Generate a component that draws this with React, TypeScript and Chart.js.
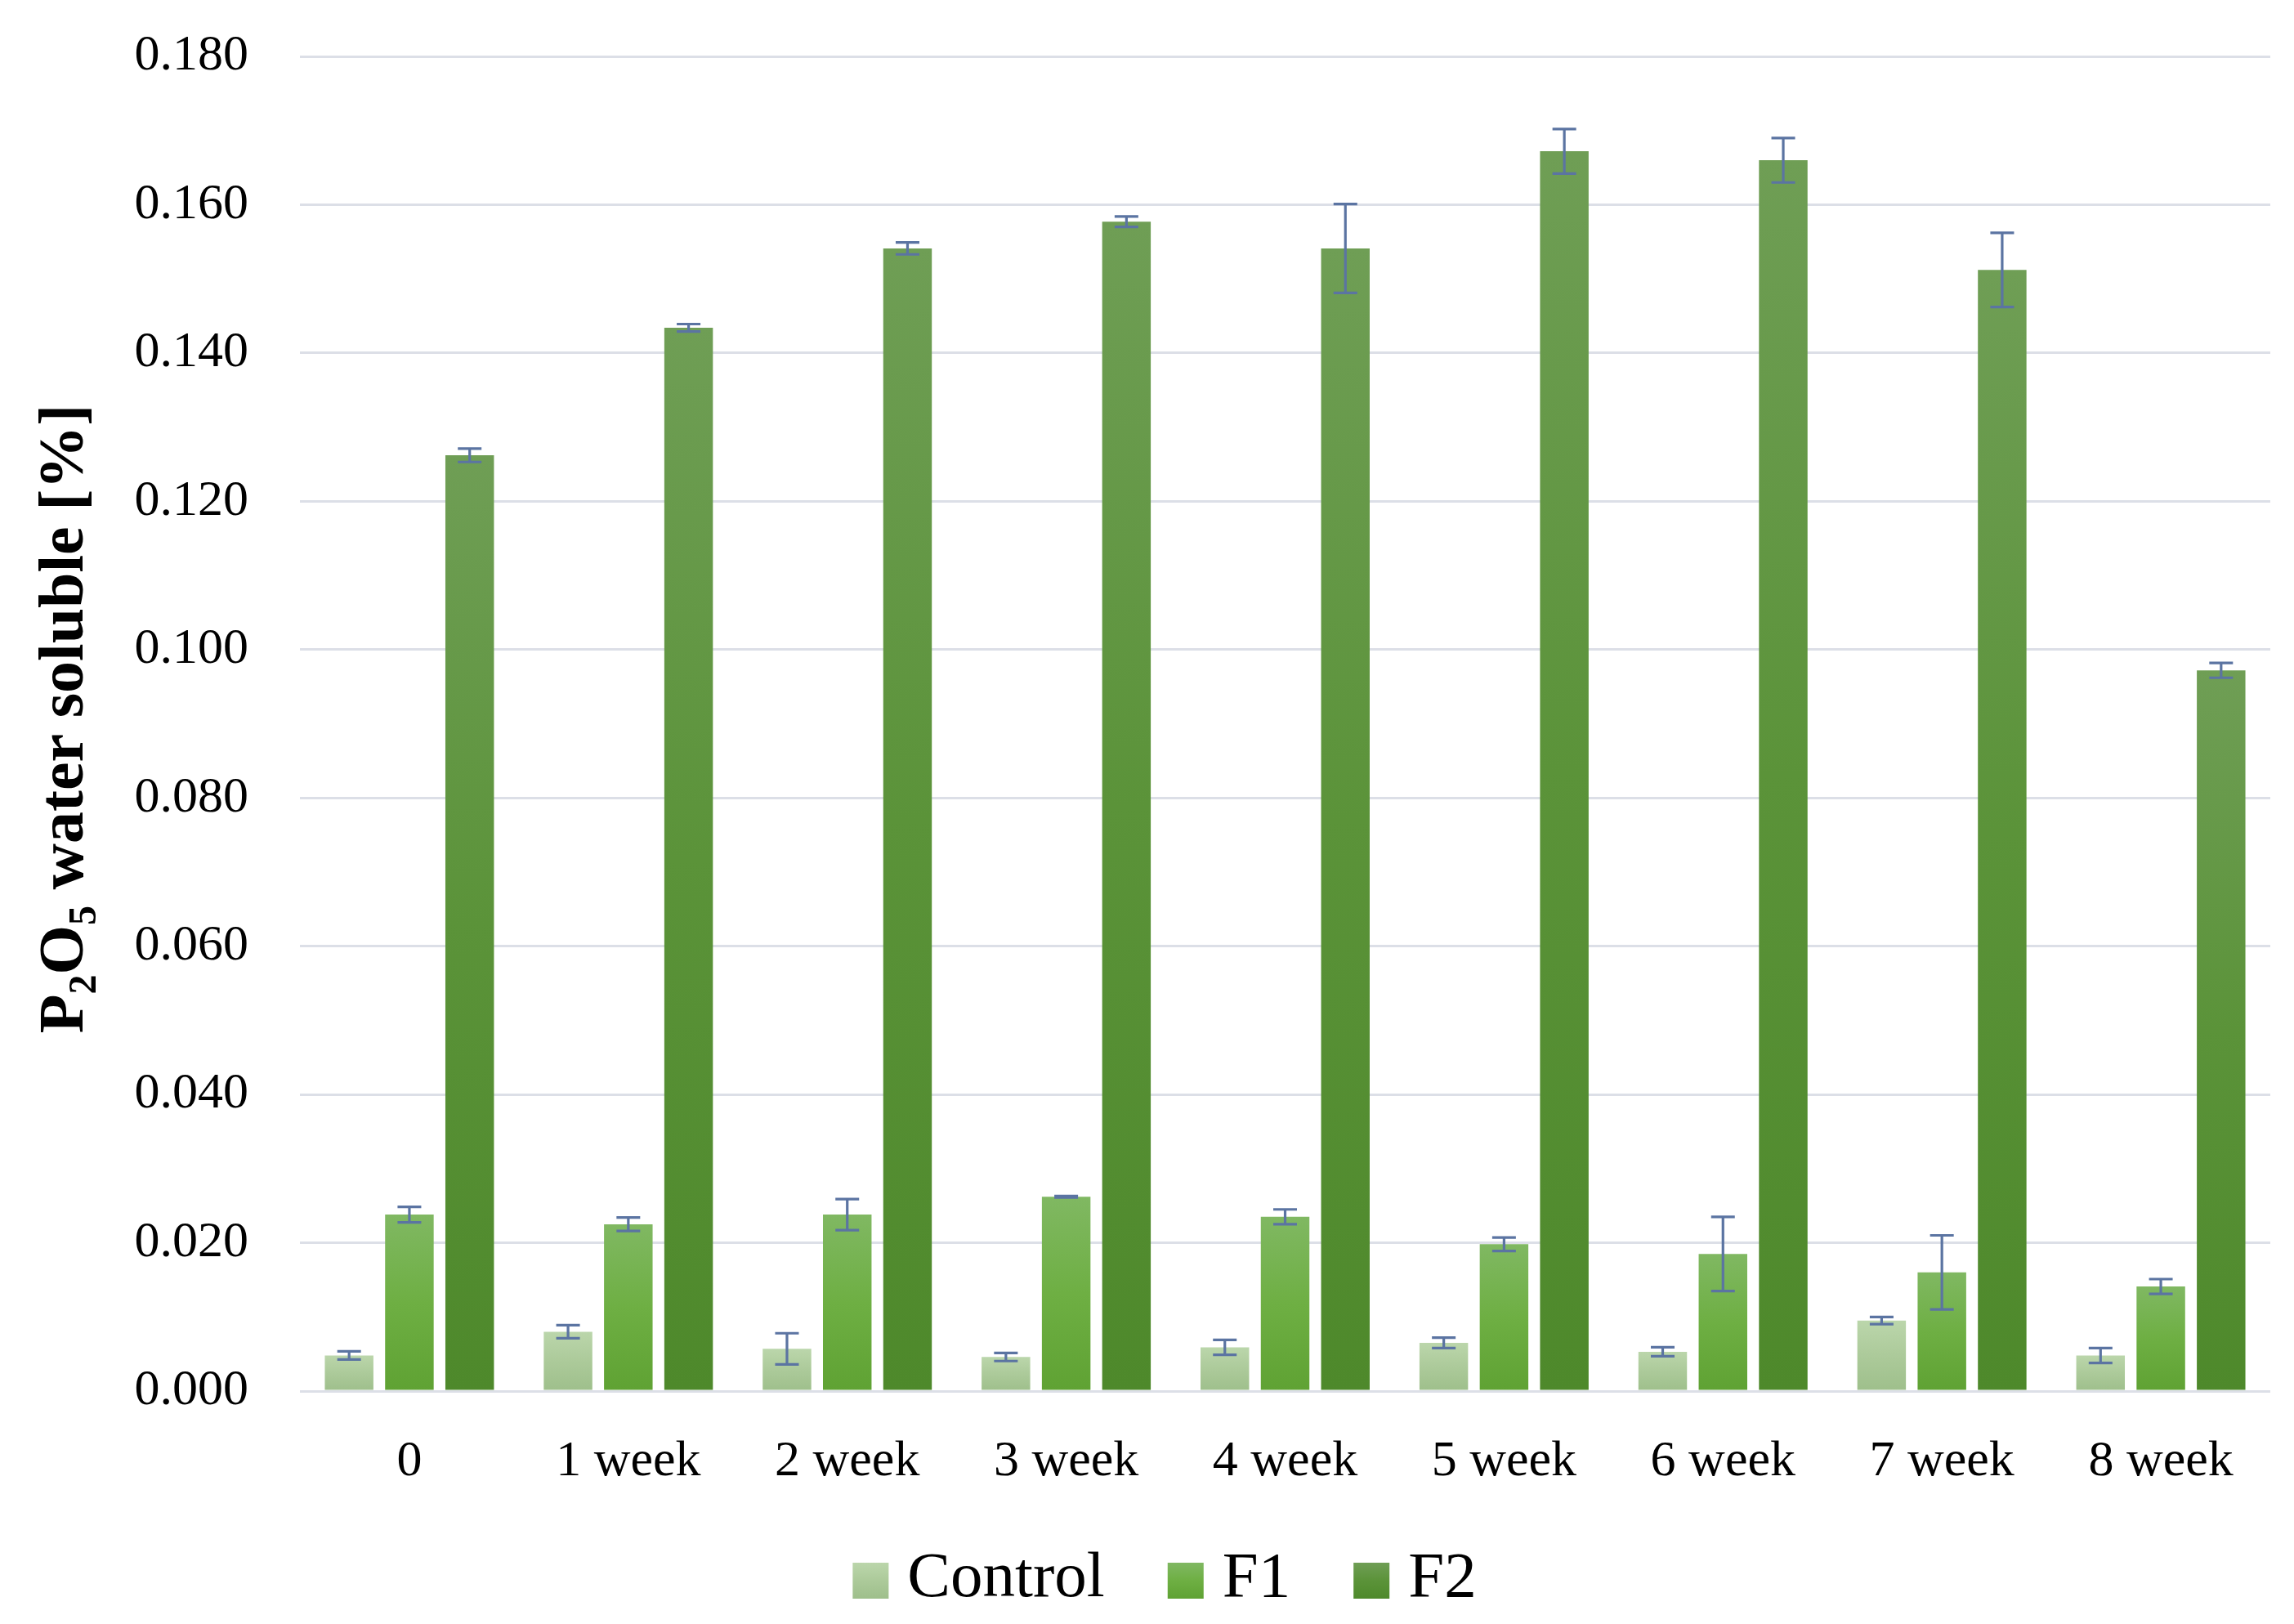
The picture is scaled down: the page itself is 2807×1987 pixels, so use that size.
import React, { useEffect, useRef } from "react";
import { Chart, registerables } from "chart.js";

Chart.register(...registerables);

const categories = ["0", "1 week", "2 week", "3 week", "4 week", "5 week", "6 week", "7 week", "8 week"];
const seriesNames = ["Control", "F1", "F2"];

const controlValues = [0.0048, 0.0080, 0.0057, 0.0046, 0.0059, 0.0065, 0.0053, 0.0095, 0.0048];
const controlErrors = [0.00055, 0.00088, 0.0021, 0.00055, 0.0010, 0.0007, 0.0006, 0.00048, 0.0010];

const f1Values = [0.0238, 0.0225, 0.0238, 0.0262, 0.0235, 0.0198, 0.0185, 0.0160, 0.0141];
const f1Errors = [0.00105, 0.0009, 0.0021, 0.0001, 0.0010, 0.0009, 0.0050, 0.0050, 0.0010];

const f2Values = [0.1262, 0.1434, 0.1541, 0.1577, 0.1541, 0.1672, 0.1660, 0.1512, 0.0972];
const f2Errors = [0.0009, 0.0005, 0.0008, 0.0007, 0.0060, 0.0030, 0.0030, 0.0050, 0.0010];

const yTicks = { min: 0, max: 0.18, step: 0.02 };

const FONT = '"Liberation Serif", "Times New Roman", serif';

const gradientStops = [
  ["#bbd6ab", "#acca9a", "#9ebf8b"],
  ["#80b862", "#6eaf43", "#5fa233"],
  ["#6f9e55", "#5b9339", "#4e892b"],
];

const errorSets = [controlErrors, f1Errors, f2Errors];

const LEGEND_FONT = 79;
const LEGEND_BOX = 44;
const LEGEND_GAP = 23;
const LEGEND_ITEM_GAP = 77;
const LEGEND_CENTER_X = 1425;
const LEGEND_CENTER_Y = 1934;

function makeFill(stops: string[]) {
  return (c: any) => {
    const chart = c.chart;
    if (!chart.chartArea || c.type !== "data") return stops[1];
    const ys = chart.scales.y;
    const top = ys.getPixelForValue(c.raw);
    const bottom = ys.getPixelForValue(0);
    if (!isFinite(top) || !isFinite(bottom) || bottom - top < 1) return stops[1];
    const g = chart.ctx.createLinearGradient(0, top, 0, bottom);
    stops.forEach((s, i) => g.addColorStop(i / (stops.length - 1), s));
    return g;
  };
}

const errorBarPlugin = {
  id: "errorBars",
  afterDatasetsDraw(chart: any) {
    const { ctx } = chart;
    const ys = chart.scales.y;
    ctx.save();
    ctx.strokeStyle = "#5b74a2";
    ctx.lineWidth = 3.2;
    chart.data.datasets.forEach((ds: any, di: number) => {
      const meta = chart.getDatasetMeta(di);
      const errs = errorSets[di];
      meta.data.forEach((bar: any, i: number) => {
        const v = ds.data[i];
        const e = errs[i];
        const x = bar.x;
        const yt = ys.getPixelForValue(v + e);
        const yb = ys.getPixelForValue(v - e);
        const hw = 14.5;
        ctx.beginPath();
        ctx.moveTo(x, yt);
        ctx.lineTo(x, yb);
        ctx.moveTo(x - hw, yt);
        ctx.lineTo(x + hw, yt);
        ctx.moveTo(x - hw, yb);
        ctx.lineTo(x + hw, yb);
        ctx.stroke();
      });
    });
    ctx.restore();
  },
};

const legendPlugin = {
  id: "customLegend",
  afterDraw(chart: any) {
    const { ctx } = chart;
    ctx.save();
    ctx.font = `${LEGEND_FONT}px ${FONT}`;
    const names = chart.data.datasets.map((d: any) => d.label as string);
    const textW = names.map((n: string) => ctx.measureText(n).width);
    let total = 0;
    textW.forEach((w: number, i: number) => {
      total += LEGEND_BOX + LEGEND_GAP + w;
      if (i < textW.length - 1) total += LEGEND_ITEM_GAP;
    });
    let x = LEGEND_CENTER_X - total / 2;
    const yTop = LEGEND_CENTER_Y - LEGEND_BOX / 2;
    names.forEach((n: string, i: number) => {
      const stops = gradientStops[i];
      const g = ctx.createLinearGradient(0, yTop, 0, yTop + LEGEND_BOX);
      stops.forEach((s: string, k: number) => g.addColorStop(k / (stops.length - 1), s));
      ctx.fillStyle = g;
      ctx.fillRect(x, yTop, LEGEND_BOX, LEGEND_BOX);
      x += LEGEND_BOX + LEGEND_GAP;
      ctx.fillStyle = "#000";
      ctx.textAlign = "left";
      ctx.textBaseline = "middle";
      ctx.fillText(n, x, LEGEND_CENTER_Y - 2);
      x += textW[i] + LEGEND_ITEM_GAP;
    });
    ctx.restore();
  },
};

const yTitlePlugin = {
  id: "yTitle",
  afterDraw(chart: any) {
    const { ctx, chartArea } = chart;
    const size = 78;
    const sub = Math.round(size * 0.62);
    const segs = [
      { t: "P", s: size, dy: 0 },
      { t: "2", s: sub, dy: size * 0.2 },
      { t: "O", s: size, dy: 0 },
      { t: "5", s: sub, dy: size * 0.2 },
      { t: " water soluble [%]", s: size, dy: 0 },
    ];
    ctx.save();
    ctx.fillStyle = "#000";
    ctx.textBaseline = "alphabetic";
    ctx.textAlign = "left";
    let total = 0;
    const widths = segs.map((sg) => {
      ctx.font = `bold ${sg.s}px ${FONT}`;
      const w = ctx.measureText(sg.t).width;
      total += w;
      return w;
    });
    ctx.translate(101, (chartArea.top + chartArea.bottom) / 2 - 6);
    ctx.rotate(-Math.PI / 2);
    let x = -total / 2;
    segs.forEach((sg, i) => {
      ctx.font = `bold ${sg.s}px ${FONT}`;
      ctx.fillText(sg.t, x, sg.dy);
      x += widths[i];
    });
    ctx.restore();
  },
};

export default function App() {
  const canvasRef = useRef<HTMLCanvasElement | null>(null);

  useEffect(() => {
    if (!canvasRef.current) return;
    const valueSets = [controlValues, f1Values, f2Values];
    const chart = new Chart(canvasRef.current, {
      type: "bar",
      data: {
        labels: categories,
        datasets: seriesNames.map((name, i) => ({
          label: name,
          data: valueSets[i],
          backgroundColor: makeFill(gradientStops[i]),
          borderWidth: 0,
          categoryPercentage: 0.826,
          barPercentage: 0.806,
        })),
      },
      options: {
        responsive: false,
        animation: false,
        devicePixelRatio: 1,
        layout: { padding: { left: 120, right: 29, top: 69, bottom: 167 } },
        plugins: {
          tooltip: { enabled: false },
          legend: { display: false },
        },
        scales: {
          x: {
            grid: { display: false, drawTicks: false },
            border: { display: false },
            ticks: { color: "#000", font: { family: FONT, size: 62 }, padding: 50, maxRotation: 0, autoSkip: false },
            afterFit: (s: any) => {
              s.height = 118;
            },
          },
          y: {
            min: yTicks.min,
            max: yTicks.max,
            grid: { color: "#dcdfe7", lineWidth: 3, drawTicks: false },
            border: { display: false },
            ticks: {
              stepSize: yTicks.step,
              color: "#000",
              font: { family: FONT, size: 62 },
              padding: 63,
              callback: (v: any) => Number(v).toFixed(3),
            },
            afterFit: (s: any) => {
              s.width = 247;
              s.paddingTop = 0;
              s.paddingBottom = 0;
            },
          },
        },
      },
      plugins: [errorBarPlugin, yTitlePlugin, legendPlugin],
    });
    return () => chart.destroy();
  }, []);

  return (
    <div style={{ position: "fixed", left: 0, top: 0, width: 2807, height: 1987, background: "#fff" }}>
      <canvas ref={canvasRef} width={2807} height={1987} style={{ width: 2807, height: 1987, display: "block" }} />
    </div>
  );
}
